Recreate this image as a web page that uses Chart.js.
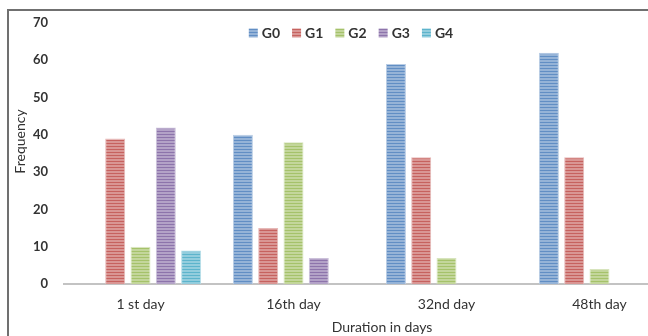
<!DOCTYPE html>
<html>
<head>
<meta charset="utf-8">
<script src="https://cdn.jsdelivr.net/npm/chart.js@4.4.1/dist/chart.umd.min.js"></script>
<style>
  html, body { margin: 0; padding: 0; background: #fff; overflow: hidden; width: 648px; height: 336px; }
  #frame { position: absolute; left: 7px; top: 9px; width: 700px; height: 340px;
           border: 2px solid #707070; background: #fff; }
  #chart { position: absolute; left: 0; top: 0; }
</style>
</head>
<body>
<div id="frame"><canvas id="chart" width="684" height="325"></canvas></div>
<script>
// Days on which each grade was counted
const categories = ['1 st day', '16th day', '32nd day', '48th day'];

// Frequency of each grade per day
const g0 = [0, 40, 59, 62];
const g1 = [39, 15, 34, 34];
const g2 = [10, 38, 7, 4];
const g3 = [42, 7, 0, 0];
const g4 = [9, 0, 0, 0];

const seriesNames = ['G0', 'G1', 'G2', 'G3', 'G4'];
const seriesValues = [g0, g1, g2, g3, g4];
const seriesColors = ['#4F81BD', '#C0504D', '#9BBB59', '#8064A2', '#4BACC6'];

// Frequency axis
const yMin = 0, yMax = 70, yStep = 10;

const xTitle = 'Duration in days';
const yTitle = 'Frequency';

const FONT = 'Lato, "Liberation Sans", sans-serif';
const TEXT = '#333333';

function hexToRgb(h) {
  const n = parseInt(h.slice(1), 16);
  return [(n >> 16) & 255, (n >> 8) & 255, n & 255];
}
function tint(h, w) {
  const [r, g, b] = hexToRgb(h);
  const m = v => Math.round(v + (255 - v) * w);
  return `rgb(${m(r)},${m(g)},${m(b)})`;
}

// Narrow horizontal stripe fill
function stripes(color) {
  const c = document.createElement('canvas');
  c.width = 4; c.height = 3;
  const x = c.getContext('2d');
  x.fillStyle = tint(color, 0.4);
  x.fillRect(0, 0, 4, 3);
  x.fillStyle = tint(color, 0.1);
  x.fillRect(0, 0, 4, 1);
  return x.createPattern(c, 'repeat');
}

const patterns = seriesColors.map(stripes);

const datasets = seriesNames.map((name, i) => ({
  label: name,
  data: seriesValues[i],
  backgroundColor: patterns[i],
  borderColor: tint(seriesColors[i], 0.6),
  borderWidth: 1,
  categoryPercentage: 0.827,
  barPercentage: 0.79
}));

// Legend laid over the top of the plot, centred on the chart
const overlayLegend = {
  id: 'overlayLegend',
  afterDraw(chart) {
    const ctx = chart.ctx;
    ctx.save();
    ctx.font = 'bold 14px ' + FONT;
    ctx.textBaseline = 'middle';
    const box = 9, gap = 4, spacing = 12;
    const items = chart.data.datasets.map((d, i) => ({
      label: d.label, fill: patterns[i], w: box + gap + ctx.measureText(d.label).width
    }));
    const total = items.reduce((s, it) => s + it.w, 0) + spacing * (items.length - 1);
    let x = chart.width / 2 - total / 2;
    const cy = 22;
    items.forEach(it => {
      ctx.fillStyle = it.fill;
      ctx.fillRect(x, cy - box / 2, box, box);
      ctx.fillStyle = TEXT;
      ctx.fillText(it.label, x + box + gap, cy + 0.5);
      x += it.w + spacing;
    });
    ctx.restore();
  }
};

// Axis titles
const axisTitles = {
  id: 'axisTitles',
  afterDraw(chart) {
    const ctx = chart.ctx, a = chart.chartArea;
    ctx.save();
    ctx.font = '14px ' + FONT;
    ctx.fillStyle = TEXT;
    ctx.textAlign = 'center';
    ctx.textBaseline = 'middle';
    ctx.fillText(xTitle, (a.left + a.right) / 2 + 12, chart.height - 9);
    ctx.translate(11, (a.top + a.bottom) / 2 - 12);
    ctx.rotate(-Math.PI / 2);
    ctx.fillText(yTitle, 0, 0);
    ctx.restore();
  }
};

new Chart(document.getElementById('chart'), {
  type: 'bar',
  data: { labels: categories, datasets },
  plugins: [overlayLegend, axisTitles],
  options: {
    responsive: false,
    devicePixelRatio: 1,
    animation: false,
    layout: { padding: { top: 12, right: 17, bottom: 0, left: 0 } },
    plugins: { legend: { display: false }, tooltip: { enabled: false } },
    scales: {
      x: {
        grid: { display: false, drawTicks: false },
        border: { display: true, color: '#c3c3c3', width: 2 },
        ticks: { color: TEXT, font: { family: FONT, size: 14 }, padding: 12, maxRotation: 0 },
        afterFit(s) { s.height = 52; }
      },
      y: {
        min: yMin, max: yMax,
        grid: { display: false, drawTicks: false },
        border: { display: false },
        ticks: { stepSize: yStep, color: TEXT, font: { family: FONT, size: 13, weight: 'bold' }, padding: 16 },
        afterFit(s) { s.width = 55; s.paddingTop = 0; s.paddingBottom = 0; }
      }
    }
  }
});
</script>
</body>
</html>
